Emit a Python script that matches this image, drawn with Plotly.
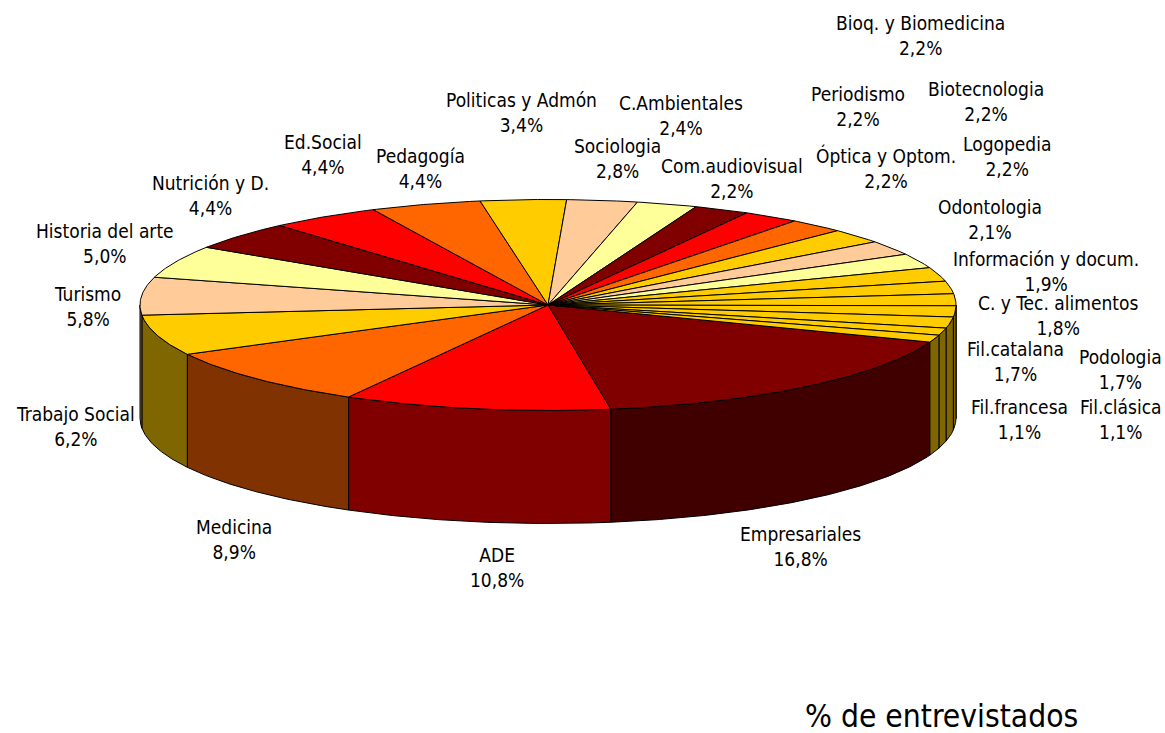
import math
import numpy as np
import plotly.graph_objects as go

categories = ["Empresariales", "ADE", "Medicina", "Trabajo Social", "Turismo", "Historia del arte",
              "Nutrición y D.", "Ed.Social", "Pedagogía", "Politicas y Admón", "Sociologia",
              "C.Ambientales", "Com.audiovisual", "Óptica y Optom.", "Periodismo",
              "Bioq. y Biomedicina", "Biotecnologia", "Logopedia", "Odontologia",
              "Información y docum.", "C. y Tec. alimentos", "Fil.catalana", "Podologia",
              "Fil.francesa", "Fil.clásica"]
values = [16.8, 10.8, 8.9, 6.2, 5.8, 5.0, 4.4, 4.4, 4.4, 3.4, 2.8, 2.4, 2.2, 2.2, 2.2, 2.2, 2.2, 2.2,
          2.1, 1.9, 1.8, 1.7, 1.7, 1.1, 1.1]
top_colors = ["#800000", "#FF0000", "#FF6600", "#FFCC00", "#FFCC99", "#FFFF99",
              "#800000", "#FF0000", "#FF6600", "#FFCC00", "#FFCC99", "#FFFF99",
              "#800000", "#FF0000", "#FF6600", "#FFCC00", "#FFCC99", "#FFFF99",
              "#FFCC00", "#FFCC00", "#FFCC00", "#FFCC00", "#FFCC00", "#FFCC00", "#FFCC00"]
side_colors = {"#800000": "#400000", "#FF0000": "#800000", "#FF6600": "#803300",
               "#FFCC00": "#806600", "#FFCC99": "#806650", "#FFFF99": "#80804D"}
label_x = [800, 497, 234, 75, 87, 105, 210, 323, 420, 521, 617, 681, 732, 886, 858, 920, 986, 1007,
           990, 1046, 1058, 1015, 1120, 1019, 1121]
label_y = [546, 567, 539, 426, 306, 243, 195, 154, 168, 112, 158, 115, 178, 168, 106, 35, 101, 156,
           219, 271, 315, 361, 369, 419, 419]

CX, CY, RX, RY, DEPTH = 548, 305, 408, 105.5, 113
START = 20.6
FONT = "DejaVu Sans Condensed"
# small correction for the original's perspective projection (degrees of shift per screen angle)
WARP_AT = [0, 90, 120, 150, 180, 250, 300, 360]
WARP_BY = [0, 0, -0.8, 0, 0, -0.5, -0.7, 0]


def rim(a0, a1, dy=0.0):
    n = max(2, int(abs(a1 - a0) / 0.5) + 1)
    pts = [a0 + (a1 - a0) * i / (n - 1) for i in range(n)]
    return ([CX + RX * math.cos(math.radians(a)) for a in pts],
            [CY + dy + RY * math.sin(math.radians(a)) for a in pts])


total = sum(values)
angles = [START]
for v in values:
    angles.append(angles[-1] + v / total * 360)
angles = [a + float(np.interp(a % 360, WARP_AT, WARP_BY)) for a in angles]

fig = go.Figure()


def poly(xs, ys, color):
    fig.add_trace(go.Scatter(x=xs, y=ys, mode="lines", fill="toself", fillcolor=color,
                             line=dict(color="black", width=1), hoverinfo="skip", showlegend=False))


# visible wall: everything on the near half (0..180 deg, measured clockwise on screen)
for i, col in enumerate(top_colors):
    for shift in (0, 360):
        a0, a1 = max(angles[i] - shift, 0), min(angles[i + 1] - shift, 180)
        if a0 < a1:
            x0, y0 = rim(a0, a1)
            x1, y1 = rim(a1, a0, DEPTH)
            poly(x0 + x1 + [x0[0]], y0 + y1 + [y0[0]], side_colors[col])

# top wedges
for i, col in enumerate(top_colors):
    xs, ys = rim(angles[i], angles[i + 1])
    poly([CX] + xs + [CX], [CY] + ys + [CY], col)

annotations = [dict(x=x, y=y, xref="x", yref="y", showarrow=False, align="center",
                    text=f"{c}<br>{str(v).replace('.', ',')}%",
                    font=dict(family=FONT, size=19, color="black"))
               for c, v, x, y in zip(categories, values, label_x, label_y)]
annotations.append(dict(x=941, y=716, xref="x", yref="y", showarrow=False, text="% de entrevistados",
                        font=dict(family=FONT, size=31.5, color="black")))

fig.update_layout(width=1165, height=733, margin=dict(l=0, r=0, t=0, b=0),
                  paper_bgcolor="white", plot_bgcolor="white", annotations=annotations,
                  xaxis=dict(range=[0, 1165], visible=False, fixedrange=True),
                  yaxis=dict(range=[733, 0], visible=False, fixedrange=True))
fig.write_html("out.html", config={"displayModeBar": False}, default_width="1165px", default_height="733px",
               post_script="document.body.style.margin='0';document.documentElement.style.overflow='hidden';")
